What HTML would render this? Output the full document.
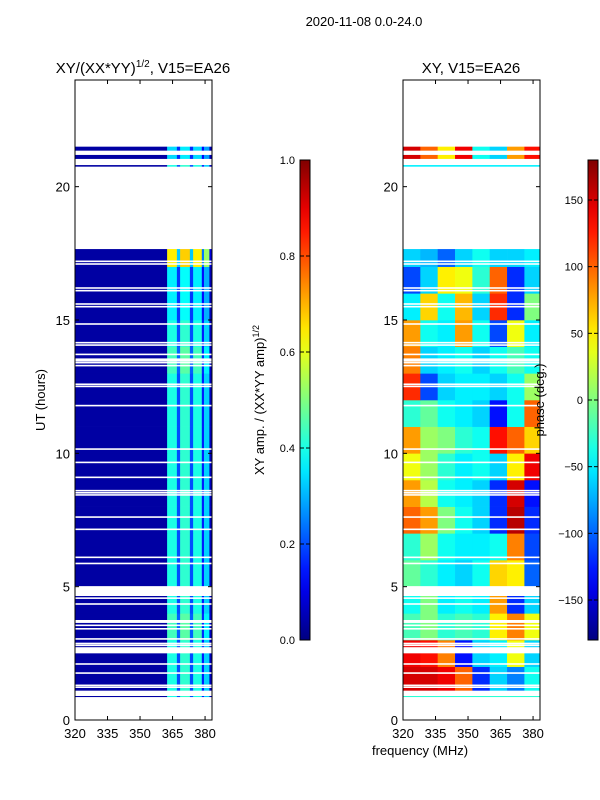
<!DOCTYPE html>
<html><head><meta charset="utf-8"><style>
body{margin:0;background:#fff;}
svg{display:block;font-family:"Liberation Sans",sans-serif;}
</style></head><body>
<svg id="fig" width="600" height="800" xmlns="http://www.w3.org/2000/svg">
<defs>
<linearGradient id="jetv" x1="0" y1="1" x2="0" y2="0"></linearGradient>
<clipPath id="clipL"><rect x="75" y="80" width="137" height="640"/></clipPath>
<clipPath id="clipR"><rect x="403" y="80" width="137" height="640"/></clipPath>
</defs>
<text x="364" y="26" font-size="13" text-anchor="middle">2020-11-08 0.0-24.0</text>
<text x="143" y="73" font-size="15" text-anchor="middle">XY/(XX*YY)<tspan font-size="10" dy="-6">1/2</tspan><tspan dy="6">, V15=EA26</tspan></text>
<text x="471" y="73" font-size="15" text-anchor="middle">XY, V15=EA26</text>
<g id="ampCells" clip-path="url(#clipL)"></g>
<g id="phaseCells" clip-path="url(#clipR)"></g>
<g id="axes"></g>
<text transform="translate(45,400) rotate(-90)" font-size="13" text-anchor="middle">UT (hours)</text>
<text x="420" y="755" font-size="13" text-anchor="middle">frequency (MHz)</text>
<text transform="translate(264,400) rotate(-90)" font-size="13" text-anchor="middle">XY amp. / (XX*YY amp)<tspan font-size="9" dy="-5">1/2</tspan></text>
<text transform="translate(544,400) rotate(-90)" font-size="13" text-anchor="middle">phase (deg.)</text>
</svg>
<script>
// ---- data ----
const ampBandEdges = [320, 362.5, 367, 368.5, 373, 374.5, 378.5, 379.5, 382, 383.2];
const ampBandValues = [0.035, 0.4, 0.2, 0.42, 0.2, 0.4, 0.15, 0.33, 0.06];
const ampHourScale = [1,1,1,1.1,1,1,1,1,1,1,1,1,1,1.1,1,0.9,0.9,1.6,1,1,1,0.85,1,1];
const phaseFreqEdges = [320,328,336,344,352,360,368,376,383.2];
const phaseRows = [
 [-30,-30,-30,-30,-30,-30,-30,-30],
 [150,150,140,100,-120,-60,-90,-40],
 [140,130,90,-130,-60,-50,40,-60],
 [-20,0,-30,-20,-30,50,90,40],
 [-40,0,-50,-40,-50,80,-120,-60],
 [-10,-30,-50,-60,-40,60,50,-100],
 [-30,10,-40,-50,-50,-40,90,-110],
 [100,80,0,-40,-60,-120,160,-120],
 [80,20,-40,-50,-60,-120,150,-130],
 [40,10,-30,-50,-40,-60,50,140],
 [80,10,0,-30,-40,130,100,60],
 [-30,-10,-40,-50,-60,-130,-40,100],
 [120,-110,-60,-50,-50,-60,-40,10],
 [90,-60,-50,-40,-60,-40,-20,-40],
 [80,-40,-50,80,-40,-110,40,-50],
 [-50,60,-40,70,-60,120,-120,0],
 [-110,-60,50,40,-30,100,-120,-60],
 [-60,-70,-100,-60,-40,-60,-60,-50],
 [0,0,0,0,0,0,0,0],
 [0,0,0,0,0,0,0,0],
 [-50,-50,-50,-50,-50,-50,-50,-50],
 [150,100,50,140,-40,-60,80,130],
 [0,0,0,0,0,0,0,0],
 [0,0,0,0,0,0,0,0]
];
const dataSpans = [[0.86,0.9],[1.1,2.5],[2.73,3.64],[3.75,4.65],[5.02,17.66],[20.75,20.81],[21.04,21.19],[21.35,21.5]];
const gapLines = [1.23,1.3,1.76,2.1,2.8,2.87,3.04,3.42,3.55,4.35,4.57,5.87,6.1,7.15,7.61,8.44,8.52,8.6,9.1,9.66,10.16,11.79,12.51,12.59,13.29,13.4,13.47,13.53,13.71,14.06,14.15,14.85,15.5,15.6,16.1,16.2,17.1,17.2];
const yTicks = [0,5,10,15,20];
const xTicks = [320,335,350,365,380];
const ampCbTicks = [0,0.2,0.4,0.6,0.8,1.0];
const phaseCbTicks = [-150,-100,-50,0,50,100,150];

// ---- scales ----
const NS="http://www.w3.org/2000/svg";
const Y0=720,Y1=80,FMIN=320,FMAX=383.2;
function yS(h){return Y0-(h/24)*(Y0-Y1);}
function xS(f,left){return left+(f-FMIN)/(FMAX-FMIN)*137;}
function cl(v){return Math.max(0,Math.min(1,v));}
function jet(x){x=cl(x);const r=cl(1.5-Math.abs(4*x-3)),g=cl(1.5-Math.abs(4*x-2)),b=cl(1.5-Math.abs(4*x-1));
 return `rgb(${Math.round(r*255)},${Math.round(g*255)},${Math.round(b*255)})`;}
function mk(tag,attrs,parent){const e=document.createElementNS(NS,tag);for(const k in attrs)e.setAttribute(k,attrs[k]);parent.appendChild(e);return e;}

const amp=document.getElementById('ampCells');
const ph=document.getElementById('phaseCells');
for(let h=0;h<24;h++){
 for(let b=0;b<ampBandValues.length;b++){
  const x0=xS(ampBandEdges[b],75),x1=xS(ampBandEdges[b+1],75);
  const v=b===0?ampBandValues[b]:ampBandValues[b]*ampHourScale[h];
  const r=mk('rect',{x:x0,y:yS(h+1),width:x1-x0+0.3,height:yS(h)-yS(h+1)+0.3,fill:jet(v)},amp);
  
  
 }
}
for(let h=0;h<24;h++){
 for(let c=0;c<8;c++){
  const x0=xS(phaseFreqEdges[c],403),x1=xS(phaseFreqEdges[c+1],403);
  const r=mk('rect',{x:x0,y:yS(h+1),width:x1-x0+0.3,height:yS(h)-yS(h+1)+0.3,fill:jet((phaseRows[h][c]+180)/360)},ph);
  
  
 }
}
[[amp,75],[ph,403]].forEach(([g,left])=>{
 let prev=0;
 const blanks=[];
 dataSpans.forEach(s=>{blanks.push([prev,s[0]]);prev=s[1];});
 blanks.push([prev,24]);
 blanks.forEach(b=>{const r=mk('rect',{x:left,y:yS(b[1]),width:137,height:yS(b[0])-yS(b[1]),fill:'#fff'},g);
  
  });
 gapLines.forEach(t=>{const r=mk('rect',{x:left,y:yS(t)-0.8,width:137,height:1.6,fill:'#fff'},g);
  
  });
});

const ax=document.getElementById('axes');
[75,403].forEach((left,i)=>{
 const f=mk('rect',{x:left,y:80,width:137,height:640,fill:'none',stroke:'#000','stroke-width':1},ax);
 
 
 yTicks.forEach(t=>{const y=yS(t);
  mk('line',{x1:left,x2:left+4,y1:y,y2:y,stroke:'#000'},ax);
  mk('line',{x1:left+137,x2:left+133,y1:y,y2:y,stroke:'#000'},ax);
  const tx=mk('text',{x:left-5,y:y+5,'font-size':13,'text-anchor':'end'},ax);tx.textContent=t;
  
  });
 xTicks.forEach(t=>{const x=xS(t,left);
  mk('line',{x1:x,x2:x,y1:720,y2:716,stroke:'#000'},ax);
  mk('line',{x1:x,x2:x,y1:80,y2:84,stroke:'#000'},ax);
  const tx=mk('text',{x:x,y:738,'font-size':13,'text-anchor':'middle'},ax);tx.textContent=t;
  
  });
});
const grad=document.getElementById('jetv');
for(let i=0;i<=20;i++){mk('stop',{offset:(i/20),'stop-color':jet(i/20)},grad);}
[[300,ampCbTicks,0,1,v=>v.toFixed(1)],[588,phaseCbTicks,-180,180,v=>v<0?'\u2212'+(-v):''+v]].forEach(([x,ticks,lo,hi,fmt],i)=>{
 const r=mk('rect',{x:x,y:160,width:10,height:480,fill:'url(#jetv)',stroke:'#000'},ax);
 
 
 ticks.forEach(t=>{const y=640-(t-lo)/(hi-lo)*480;
  mk('line',{x1:x,x2:x+4,y1:y,y2:y,stroke:'#000'},ax);
  mk('line',{x1:x+10,x2:x+6,y1:y,y2:y,stroke:'#000'},ax);
  const tx=mk('text',{x:x-5,y:y+4,'font-size':11,'text-anchor':'end'},ax);tx.textContent=fmt(t);
  
  });
});
</script>
</body></html>
